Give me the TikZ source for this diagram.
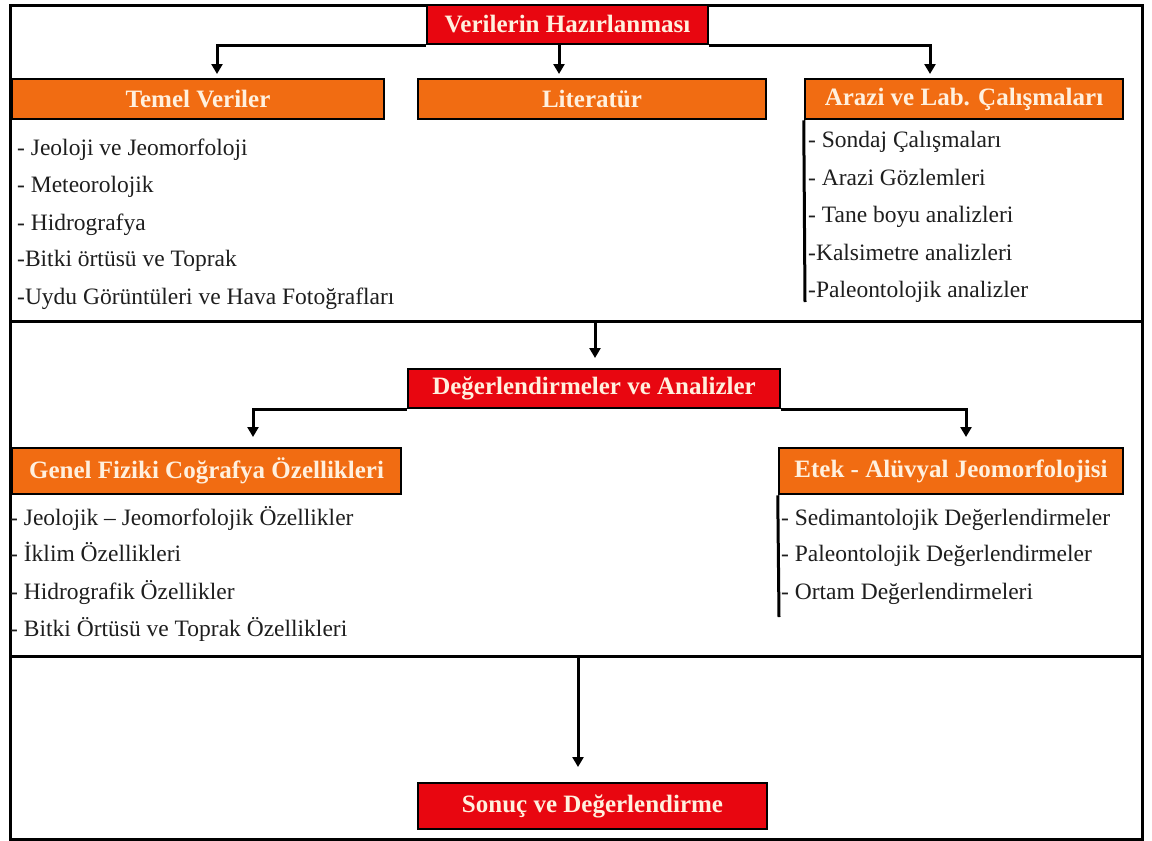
\documentclass[tikz,border=0pt]{standalone}
\usepackage{fontspec}
\setmainfont{Liberation Serif}
\usetikzlibrary{arrows.meta}
\definecolor{boxred}{RGB}{232,6,16}
\definecolor{boxorange}{RGB}{241,108,18}
\definecolor{cream}{RGB}{255,240,222}
\definecolor{ink}{RGB}{30,30,30}
\begin{document}
\begin{tikzpicture}[x=1pt,y=-1pt,
  hdr/.style={draw=black, line width=2.5pt, text=cream, inner sep=0pt,
    font=\bfseries\fontsize{25}{28}\selectfont},
  redbox/.style={hdr, fill=boxred},
  orbox/.style={hdr, fill=boxorange},
  item/.style={anchor=base west, inner sep=0pt, text=ink, font=\fontsize{23.5}{27}\selectfont},
  conn/.style={line width=3pt, -{Triangle[width=11pt,length=10pt]}},
  rule/.style={line width=3pt},
  side/.style={line width=3pt}
]
\useasboundingbox (0,0) rectangle (1152,841);
% frame and dividers
\coordinate (fTL) at (10,5);
\coordinate (fBR) at (1142,839);
\draw[rule, fill=white] (fTL) rectangle (fBR);
\coordinate (d1L) at (10,321); \coordinate (d1R) at (1142,321);
\coordinate (d2L) at (10,656); \coordinate (d2R) at (1142,656);
\draw[rule] (d1L) -- (d1R);
\draw[rule] (d2L) -- (d2R);

% section 1
\node[redbox, minimum width=281pt, minimum height=39pt] (top) at (567.5,24.5) {Verilerin Hazırlanması};
\node[orbox, minimum width=372pt, minimum height=40pt] (temel) at (198,99) {Temel Veriler};
\node[orbox, minimum width=348pt, minimum height=40pt] (lit) at (592,99) {Literatür};
\node[orbox, minimum width=318pt, minimum height=40pt] (arazi) at (964,99) {Arazi ve Lab. Çalışmaları};

\coordinate (a1) at (217,74);
\coordinate (a2) at (559,74);
\coordinate (a3) at (930,74);
\draw[conn] (top.south west) -| (a1);
\draw[conn] (a2 |- top.south) -- (a2);
\draw[conn] (top.south east) -| (a3);

\node[item] (t1) at (17,155) {- Jeoloji ve Jeomorfoloji};
\node[item] (t2) at (17,192) {- Meteorolojik};
\node[item] (t3) at (17,230) {- Hidrografya};
\node[item] (t4) at (17,266) {-Bitki örtüsü ve Toprak};
\node[item] (t5) at (17,304) {-Uydu Görüntüleri ve Hava Fotoğrafları};

\coordinate (s1) at (805,302);
\draw[side] (arazi.south west) -- (s1);
\node[item] (r1) at (808,147) {- Sondaj Çalışmaları};
\node[item] (r2) at (808,185) {- Arazi Gözlemleri};
\node[item] (r3) at (808,222) {- Tane boyu analizleri};
\node[item] (r4) at (808,260) {-Kalsimetre analizleri};
\node[item] (r5) at (808,297) {-Paleontolojik analizler};

% section 2
\node[redbox, minimum width=372pt, minimum height=39pt] (deg) at (594,388.5) {Değerlendirmeler ve Analizler};
\coordinate (b0) at (595,321);
\coordinate (b0e) at (595,358);
\draw[conn] (b0) -- (b0e);

\node[orbox, minimum width=389pt, minimum height=46pt] (genel) at (206.5,471) {Genel Fiziki Coğrafya Özellikleri};
\node[orbox, minimum width=344pt, minimum height=46pt] (etek) at (951,471) {Etek - Alüvyal Jeomorfolojisi};

\coordinate (b1) at (253,437);
\coordinate (b2) at (966,437);
\draw[conn] (deg.south west) -| (b1);
\draw[conn] (deg.south east) -| (b2);

\node[item] (g1) at (10,525) {- Jeolojik – Jeomorfolojik Özellikler};
\node[item] (g2) at (10,561) {- İklim Özellikleri};
\node[item] (g3) at (10,599) {- Hidrografik Özellikler};
\node[item] (g4) at (10,636) {- Bitki Örtüsü ve Toprak Özellikleri};

\coordinate (s2) at (779,617);
\draw[side] (etek.south west) -- (s2);
\node[item] (e1) at (781,525) {- Sedimantolojik Değerlendirmeler};
\node[item] (e2) at (781,561) {- Paleontolojik Değerlendirmeler};
\node[item] (e3) at (781,599) {- Ortam Değerlendirmeleri};

% section 3
\node[redbox, minimum width=349pt, minimum height=46pt] (son) at (592.5,806) {Sonuç ve Değerlendirme};
\coordinate (c0) at (578,656);
\coordinate (c0e) at (578,767);
\draw[conn] (c0) -- (c0e);
\end{tikzpicture}
\end{document}
